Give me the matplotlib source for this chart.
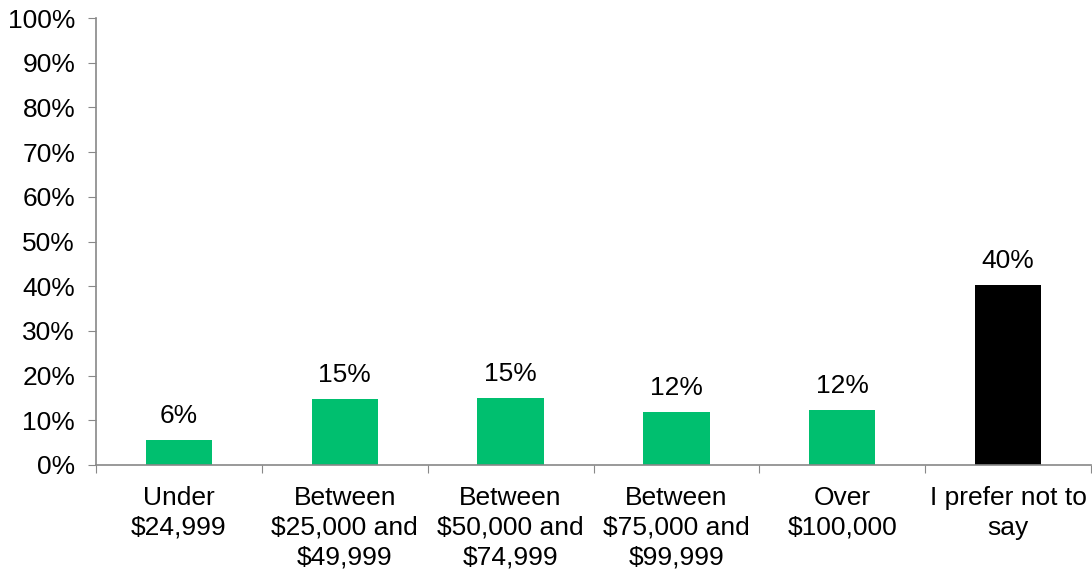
import numpy as np
import matplotlib.pyplot as plt

plt.rcParams['font.family'] = ['Liberation Sans', 'DejaVu Sans']

categories = ['Under\n$24,999', 'Between\n$25,000 and\n$49,999', 'Between\n$50,000 and\n$74,999',
              'Between\n$75,000 and\n$99,999', 'Over\n$100,000', 'I prefer not to\nsay']
values = [5.7, 14.8, 15.1, 11.9, 12.4, 40.3]
colors = ['#00BF6F'] * 5 + ['#000000']
yticks = np.arange(0, 101, 10)

fig = plt.figure(figsize=(10.92, 5.71), dpi=100)
ax = fig.add_axes([96 / 1092, (571 - 465) / 571, (1091 - 96) / 1092, (465 - 18) / 571])

x = np.arange(len(categories))
ax.bar(x, values, width=0.4, color=colors)
for xi, v in zip(x, values):
    ax.text(xi, v + 2.6, f'{v:.0f}%', ha='center', va='bottom', fontsize=19)

ax.set_xlim(-0.5, len(categories) - 0.5)
ax.set_ylim(0, 100)
ax.set_yticks(yticks)
ax.set_yticklabels([f'{t}%' for t in yticks], fontsize=19)
ax.tick_params(axis='y', length=6, color='#888888', pad=9)

# category labels sit between the boundary ticks
ax.set_xticks(np.arange(len(categories) + 1) - 0.5)
ax.set_xticklabels([])
ax.set_xticks(x, minor=True)
ax.set_xticklabels(categories, minor=True, fontsize=19, linespacing=1.3)
ax.tick_params(axis='x', which='major', length=6, color='#888888')
ax.tick_params(axis='x', which='minor', length=0, pad=15)

for side in ['top', 'right']:
    ax.spines[side].set_visible(False)
for side in ['left', 'bottom']:
    ax.spines[side].set_color('#888888')
    ax.spines[side].set_linewidth(1.2)

fig.savefig('out.png', dpi=100)
